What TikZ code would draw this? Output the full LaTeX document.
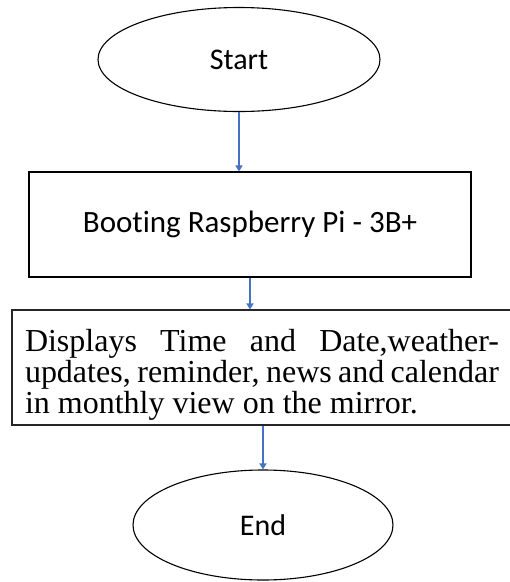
\documentclass[tikz,border=0pt]{standalone}
\usepackage{fontspec}
\setmainfont{Liberation Serif}
\newfontfamily\calib[Ligatures=NoCommon]{Carlito}
\usetikzlibrary{shapes.geometric,arrows.meta}
\definecolor{arrowblue}{HTML}{4472C4}
\tikzset{
  term/.style={ellipse, draw=black, line width=1.1pt, inner sep=0pt,
    font=\calib\fontsize{30}{36}\selectfont},
  procbox/.style={rectangle, draw=black, line width=1.1pt, inner sep=0pt,
    font=\calib\fontsize{31}{36}\selectfont},
  textbox/.style={rectangle, draw=black!85, line width=1.1pt, inner xsep=13pt, inner ysep=0pt,
    text width=474pt, align=justify, minimum height=115pt,
    font=\fontsize{32}{31}\selectfont},
  flow/.style={draw=arrowblue, line width=1.3pt, -{Triangle[width=7pt,length=6pt]}}
}
\begin{document}
\begin{tikzpicture}[x=1pt,y=1pt]
\useasboundingbox (0,0) rectangle (510,-582);
\node[term, minimum width=282pt, minimum height=104pt] (start) at (239,-59.5) {Start};
\node[procbox, minimum width=442pt, minimum height=105pt] (boot) at (250,-224.5) {Booting Raspberry Pi - 3B+};
\node[textbox] (disp) at (262,-367.5) {\hyphenpenalty=10000\rule{0pt}{37pt}Displays Time and Date,weather-\linebreak updates, reminder, news and \mbox{calendar}\linebreak in monthly view on the mirror.};
\node[term, minimum width=260pt, minimum height=110pt] (end) at (263,-525) {End};
\draw[flow] (start.south) -- (start.south |- boot.north);
\draw[flow] (boot.south) -- (boot.south |- disp.north);
\draw[flow] (end.north |- disp.south) -- (end.north);
\end{tikzpicture}
\end{document}
